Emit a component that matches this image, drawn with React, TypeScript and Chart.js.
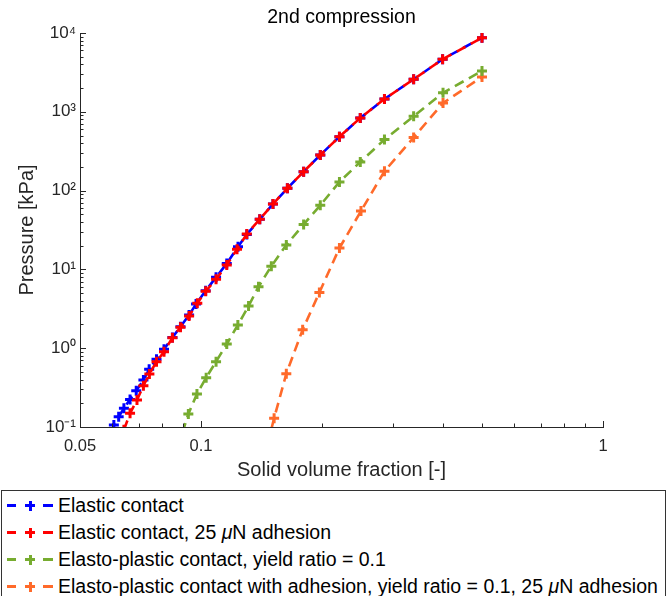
import React, { useEffect, useRef } from 'react';
import { Chart, registerables } from 'chart.js';

Chart.register(...registerables);

// ---------- text ----------
const TITLE = '2nd compression';
const X_LABEL = 'Solid volume fraction [-]';
const Y_LABEL = 'Pressure [kPa]';

const SERIES_NAMES = [
  'Elastic contact',
  'Elastic contact, 25 μN adhesion',
  'Elasto-plastic contact, yield ratio = 0.1',
  'Elasto-plastic contact with adhesion, yield ratio = 0.1, 25 μN adhesion',
];

// ---------- data ----------
const elasticX = [0.0607, 0.0624, 0.0643, 0.0666, 0.069, 0.0719, 0.0743, 0.0775, 0.0809, 0.0849, 0.0889, 0.0934, 0.0972, 0.1027, 0.109, 0.1159, 0.1236, 0.13, 0.14, 0.151, 0.164, 0.18, 0.198, 0.221, 0.249, 0.286, 0.338, 0.399, 0.5];
const elasticY = [0.106, 0.135, 0.173, 0.224, 0.289, 0.394, 0.54, 0.722, 0.968, 1.37, 1.87, 2.64, 3.64, 5.37, 7.94, 11.9, 19.4, 27.8, 43.2, 67.6, 107, 174, 283, 483, 834, 1454, 2585, 4640, 8710];

const adhesionX = [0.0643, 0.0666, 0.0693, 0.0719, 0.0744, 0.0775, 0.0809, 0.0849, 0.0889, 0.0934, 0.0979, 0.1027, 0.109, 0.1159, 0.1229, 0.13, 0.14, 0.151, 0.164, 0.18, 0.198, 0.221, 0.249, 0.286, 0.338, 0.399, 0.5];
const adhesionY = [0.092, 0.149, 0.22, 0.334, 0.471, 0.675, 0.903, 1.36, 1.84, 2.56, 3.71, 5.27, 7.48, 11.4, 18.0, 28.1, 43.2, 67.6, 107, 174, 283, 483, 834, 1454, 2585, 4640, 8710];

const plasticX = [0.0899, 0.093, 0.0977, 0.103, 0.109, 0.1159, 0.1235, 0.1313, 0.139, 0.1496, 0.163, 0.18, 0.198, 0.221, 0.249, 0.286, 0.338, 0.4, 0.5];
const plasticY = [0.085, 0.146, 0.263, 0.423, 0.675, 1.13, 1.97, 3.43, 6.03, 11.0, 20.4, 37.2, 65, 129, 231, 444, 877, 1742, 3300];

const plasticAdhX = [0.14, 0.152, 0.163, 0.179, 0.197, 0.221, 0.25, 0.286, 0.338, 0.4, 0.5];
const plasticAdhY = [0.025, 0.129, 0.475, 1.72, 5.09, 18.7, 55, 176, 472, 1294, 2766];

// ---------- ticks ----------
const xTickValues = [0.05, 0.06, 0.07, 0.08, 0.09, 0.1, 0.2, 0.3, 0.4, 0.5, 0.6, 0.7, 0.8, 0.9, 1];
const xTickLabels = ['0.05', '', '', '', '', '0.1', '', '', '', '', '', '', '', '', '1'];

const yTickValues = [
  0.1, 0.2, 0.3, 0.4, 0.5, 0.6, 0.7, 0.8, 0.9,
  1, 2, 3, 4, 5, 6, 7, 8, 9,
  10, 20, 30, 40, 50, 60, 70, 80, 90,
  100, 200, 300, 400, 500, 600, 700, 800, 900,
  1000, 2000, 3000, 4000, 5000, 6000, 7000, 8000, 9000,
  10000,
];
const yMajorValues = [0.1, 1, 10, 100, 1000, 10000];
const yMajorLabels = ['10⁻¹', '10⁰', '10¹', '10²', '10³', '10⁴'];

// ---------- styles ----------
const FONT = "'Liberation Sans', Arial, Helvetica, sans-serif";
const AXIS_COLOR = '#262626';
const COLORS = ['#0000FF', '#FF0000', '#77AC30', '#FF6A2A'];
const DASH = [10, 6];

const toPoints = (xs: number[], ys: number[]) => xs.map((x, i) => ({ x, y: ys[i] }));

const inwardTicks = {
  id: 'inwardTicks',
  afterDatasetsDraw(chart: any) {
    const { ctx, chartArea, scales } = chart;
    ctx.save();
    ctx.strokeStyle = AXIS_COLOR;
    ctx.lineWidth = 1;
    const xs = scales.x;
    xs.ticks.forEach((t: any) => {
      const px = Math.round(xs.getPixelForValue(t.value)) + 0.5;
      const i = xTickValues.indexOf(t.value);
      const len = i >= 0 && xTickLabels[i] !== '' ? 6 : 3.5;
      ctx.beginPath();
      ctx.moveTo(px, chartArea.bottom);
      ctx.lineTo(px, chartArea.bottom - len);
      ctx.stroke();
    });
    const ys = scales.y;
    ys.ticks.forEach((t: any) => {
      const py = Math.round(ys.getPixelForValue(t.value)) + 0.5;
      const len = yMajorValues.indexOf(t.value) >= 0 ? 6 : 3.5;
      ctx.beginPath();
      ctx.moveTo(chartArea.left, py);
      ctx.lineTo(chartArea.left + len, py);
      ctx.stroke();
    });
    ctx.restore();
  },
};

function makeDataset(label: string, xs: number[], ys: number[], color: string, order: number, dashOffset: number) {
  return {
    label,
    data: toPoints(xs, ys),
    borderColor: color,
    backgroundColor: color,
    borderWidth: 2.6,
    borderDash: DASH,
    borderDashOffset: dashOffset,
    tension: 0,
    pointStyle: 'cross',
    pointRadius: 5,
    pointHoverRadius: 5,
    pointBorderWidth: 3,
    pointBorderColor: color,
    pointBackgroundColor: color,
    order,
  };
}

function LegendMarker({ color }: { color: string }) {
  const bar = (left: number, top: number, w: number, h: number) => (
    <span style={{ position: 'absolute', left, top, width: w, height: h, background: color }} />
  );
  return (
    <span style={{ position: 'absolute', left: 0, top: 0, width: 56, height: 27 }}>
      {bar(5, 12, 9, 3)}
      {bar(23, 12, 10, 3)}
      {bar(26.5, 8.5, 3, 10)}
      {bar(41, 12, 10, 3)}
    </span>
  );
}

function renderName(name: string) {
  const idx = name.indexOf('μ');
  if (idx < 0) return name;
  return (
    <>
      {name.slice(0, idx)}
      <span style={{ fontStyle: 'italic' }}>μ</span>
      {name.slice(idx + 1)}
    </>
  );
}

export default function App() {
  const canvasRef = useRef<HTMLCanvasElement>(null);

  useEffect(() => {
    const canvas = canvasRef.current;
    if (!canvas) return;
    const chart = new Chart(canvas, {
      type: 'line',
      data: {
        datasets: [
          makeDataset(SERIES_NAMES[0], elasticX, elasticY, COLORS[0], 1, 8),
          makeDataset(SERIES_NAMES[1], adhesionX, adhesionY, COLORS[1], 0, 0),
          makeDataset(SERIES_NAMES[2], plasticX, plasticY, COLORS[2], 0, 0),
          makeDataset(SERIES_NAMES[3], plasticAdhX, plasticAdhY, COLORS[3], 0, 0),
        ] as any,
      },
      options: {
        responsive: false,
        animation: false,
        devicePixelRatio: 1,
        layout: { padding: { left: 0, right: 64, top: 0, bottom: 0 } },
        plugins: {
          legend: { display: false },
          tooltip: { enabled: false },
          title: {
            display: true,
            text: TITLE,
            fullSize: false,
            color: '#000',
            font: { family: FONT, size: 19.5, weight: 'normal', lineHeight: 1.2 },
            padding: { top: 6, bottom: 3.6 },
          },
        },
        scales: {
          x: {
            type: 'logarithmic',
            position: 'bottom',
            min: 0.05,
            max: 1,
            afterBuildTicks: (s: any) => {
              s.ticks = xTickValues.map((v) => ({ value: v }));
            },
            afterFit: (s: any) => {
              s.height = 63;
            },
            grid: { display: false, drawTicks: false },
            border: { display: true, color: AXIS_COLOR, width: 1 },
            ticks: {
              autoSkip: false,
              maxRotation: 0,
              minRotation: 0,
              padding: 10,
              color: AXIS_COLOR,
              font: { family: FONT, size: 16.5 },
              callback: (v: any) => {
                const i = xTickValues.indexOf(Number(v));
                return i >= 0 ? xTickLabels[i] : '';
              },
            },
            title: {
              display: true,
              text: X_LABEL,
              color: AXIS_COLOR,
              font: { family: FONT, size: 20, lineHeight: 1.2 },
              padding: { top: 0, bottom: 8 },
            },
          },
          y: {
            type: 'logarithmic',
            position: 'left',
            min: 0.1,
            max: 10000,
            afterBuildTicks: (s: any) => {
              s.ticks = yTickValues.map((v) => ({ value: v }));
            },
            afterFit: (s: any) => {
              s.width = 80;
            },
            grid: { display: false, drawTicks: false },
            border: { display: true, color: AXIS_COLOR, width: 1 },
            ticks: {
              autoSkip: false,
              padding: 4,
              color: AXIS_COLOR,
              font: { family: FONT, size: 17 },
              callback: (v: any) => {
                const i = yMajorValues.indexOf(Number(v));
                return i >= 0 ? yMajorLabels[i] : '';
              },
            },
            title: {
              display: true,
              text: Y_LABEL,
              color: AXIS_COLOR,
              font: { family: FONT, size: 20, lineHeight: 1.2 },
              padding: { top: 15.5, bottom: 0 },
            },
          },
        },
      } as any,
      plugins: [inwardTicks],
    });
    return () => chart.destroy();
  }, []);

  return (
    <div style={{ position: 'fixed', left: 0, top: 0, width: 667, height: 596, overflow: 'hidden', background: '#fff' }}>
      <canvas ref={canvasRef} width={667} height={490} style={{ position: 'absolute', left: 0, top: 0, width: 667, height: 490 }} />
      <div
        style={{
          position: 'absolute',
          left: 1,
          top: 490,
          width: 665,
          height: 118,
          boxSizing: 'border-box',
          border: '1px solid #333',
          background: '#fff',
          fontFamily: FONT,
          fontSize: 19.5,
          color: '#000',
        }}
      >
        {SERIES_NAMES.map((name, i) => (
          <div key={name} style={{ position: 'absolute', left: 0, top: 1 + 27 * i, height: 27, width: '100%', lineHeight: '27px', whiteSpace: 'nowrap' }}>
            <LegendMarker color={COLORS[i]} />
            <span style={{ position: 'absolute', left: 56, top: 0 }}>{renderName(name)}</span>
          </div>
        ))}
      </div>
    </div>
  );
}
